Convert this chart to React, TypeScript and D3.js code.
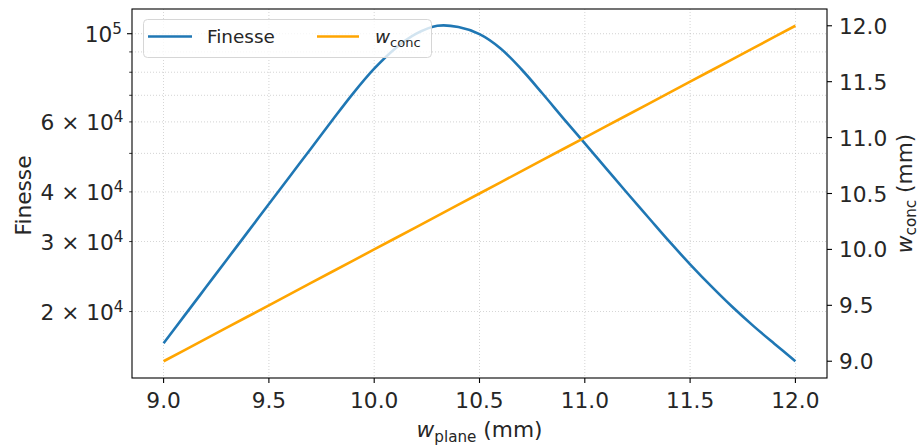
import React from "react";
import * as d3 from "d3";

// Data
const wPlane: number[] = [
  9.0, 9.1, 9.2, 9.3, 9.4, 9.5, 9.6, 9.7, 9.8, 9.9, 10.0, 10.1, 10.2, 10.3, 10.4, 10.5,
  10.6, 10.7, 10.8, 10.9, 11.0, 11.1, 11.2, 11.3, 11.4, 11.5, 11.6, 11.7, 11.8, 11.9, 12.0,
];
const finesse: number[] = [
  16650, 19560, 22985, 27010, 31730, 37290, 43810, 51460, 60470, 70790, 81660, 91830,
  100000, 104710, 103990, 99770, 91830, 81280, 70630, 61090, 52970, 45920, 39810, 34590,
  30060, 26300, 23170, 20560, 18410, 16600, 15000,
];
const wConc: number[] = [
  9.0, 9.1, 9.2, 9.3, 9.4, 9.5, 9.6, 9.7, 9.8, 9.9, 10.0, 10.1, 10.2, 10.3, 10.4, 10.5,
  10.6, 10.7, 10.8, 10.9, 11.0, 11.1, 11.2, 11.3, 11.4, 11.5, 11.6, 11.7, 11.8, 11.9, 12.0,
];
const xTicks: number[] = [9.0, 9.5, 10.0, 10.5, 11.0, 11.5, 12.0];
const rightTicks: number[] = [9.0, 9.5, 10.0, 10.5, 11.0, 11.5, 12.0];
const leftMajorTicks: number[] = [100000];
const leftMinorTicks: number[] = [20000, 30000, 40000, 50000, 60000, 70000, 80000, 90000];
const leftMinorLabels: { v: number; m: string }[] = [
  { v: 20000, m: "2" },
  { v: 30000, m: "3" },
  { v: 40000, m: "4" },
  { v: 60000, m: "6" },
];

const W = 918;
const H = 445;
const L = 132;
const R = 827;
const T = 9;
const B = 378;
const FONT = "DejaVu Sans, sans-serif";
const FS = 21.7;
const SUP = 15.2;
const LFS = 18.4;
const LSUB = 13;
const BLUE = "#1f77b4";
const ORANGE = "#ffa500";
const TXT = "#262626";

export default function App() {
  const xExt = d3.extent(wPlane) as [number, number];
  const xPad = (xExt[1] - xExt[0]) * 0.05;
  const x = d3.scaleLinear().domain([xExt[0] - xPad, xExt[1] + xPad]).range([L, R]);

  const lmin = Math.log10(d3.min(finesse)!);
  const lmax = Math.log10(d3.max(finesse)!);
  const lpad = (lmax - lmin) * 0.05;
  const yL = d3.scaleLog().domain([10 ** (lmin - lpad), 10 ** (lmax + lpad)]).range([B, T]);

  const rExt = d3.extent(wConc) as [number, number];
  const rPad = (rExt[1] - rExt[0]) * 0.05;
  const yR = d3.scaleLinear().domain([rExt[0] - rPad, rExt[1] + rPad]).range([B, T]);

  const blueLine = d3
    .line<number>()
    .x((_, i) => x(wPlane[i]))
    .y((d) => yL(d))
    .curve(d3.curveCatmullRom.alpha(0.5))(finesse)!;
  const orangeLine = d3
    .line<number>()
    .x((_, i) => x(wPlane[i]))
    .y((d) => yR(d))(wConc)!;

  const gridStyle = { stroke: "#b0b0b0", strokeWidth: 0.8, strokeDasharray: "0.8,2.2", opacity: 0.85 };

  return (
    <svg
      width={W}
      height={H}
      style={{ position: "absolute", left: 0, top: 0, background: "#fff" }}
      fontFamily={FONT}
    >
      <rect x={0} y={0} width={W} height={H} fill="#fff" />
      <defs>
        <clipPath id="plotclip">
          <rect x={L} y={T} width={R - L} height={B - T} />
        </clipPath>
      </defs>
      {/* grid */}
      {xTicks.map((t) => (
        <line key={"gx" + t} x1={x(t)} x2={x(t)} y1={T} y2={B} {...gridStyle} />
      ))}
      {[...leftMajorTicks, ...leftMinorTicks].map((t) => (
        <line key={"gy" + t} x1={L} x2={R} y1={yL(t)} y2={yL(t)} {...gridStyle} />
      ))}
      {/* lines */}
      <g clipPath="url(#plotclip)">
        <path d={blueLine} fill="none" stroke={BLUE} strokeWidth={2.6} strokeLinejoin="round" strokeLinecap="butt" />
        <path d={orangeLine} fill="none" stroke={ORANGE} strokeWidth={2.6} strokeLinecap="butt" />
      </g>
      {/* spines */}
      <rect x={L} y={T} width={R - L} height={B - T} fill="none" stroke="#000" strokeWidth={1.1} />
      {/* bottom ticks */}
      {xTicks.map((t) => (
        <g key={"xt" + t}>
          <line x1={x(t)} x2={x(t)} y1={B} y2={B + 5} stroke="#000" strokeWidth={1.1} />
          <text x={x(t)} y={B + 30} textAnchor="middle" fontSize={FS} fill={TXT}>
            {t.toFixed(1)}
          </text>
        </g>
      ))}
      {/* left ticks */}
      {leftMajorTicks.map((t) => (
        <g key={"lt" + t}>
          <line x1={L - 5} x2={L} y1={yL(t)} y2={yL(t)} stroke="#000" strokeWidth={1.1} />
          <text x={L - 10} y={yL(t) + 8} textAnchor="end" fontSize={FS} fill={TXT}>
            10<tspan dy={-8} fontSize={SUP}>5</tspan>
          </text>
        </g>
      ))}
      {leftMinorTicks.map((t) => (
        <line key={"lm" + t} x1={L - 2.8} x2={L} y1={yL(t)} y2={yL(t)} stroke="#000" strokeWidth={0.8} />
      ))}
      {leftMinorLabels.map((d) => (
        <text key={"ll" + d.v} x={L - 8.5} y={yL(d.v) + 8} textAnchor="end" fontSize={FS} fill={TXT}>
          {d.m} × 10<tspan dy={-8} fontSize={SUP}>4</tspan>
        </text>
      ))}
      {/* right ticks */}
      {rightTicks.map((t) => (
        <g key={"rt" + t}>
          <line x1={R} x2={R + 5} y1={yR(t)} y2={yR(t)} stroke="#000" strokeWidth={1.1} />
          <text x={R + 12} y={yR(t) + 8} textAnchor="start" fontSize={FS} fill={TXT}>
            {t.toFixed(1)}
          </text>
        </g>
      ))}
      {/* axis labels */}
      <text x={(L + R) / 2} y={437} textAnchor="middle" fontSize={FS} fill={TXT}>
        <tspan fontStyle="italic">w</tspan>
        <tspan fontSize={SUP} dy={4.5}>plane</tspan>
        <tspan dy={-4.5}> (mm)</tspan>
      </text>
      <text
        transform={`translate(30.5,${(T + B) / 2 + 2}) rotate(-90)`}
        textAnchor="middle"
        fontSize={FS}
        fill={TXT}
      >
        Finesse
      </text>
      <text
        transform={`translate(911.5,${(T + B) / 2}) rotate(-90)`}
        textAnchor="middle"
        fontSize={FS}
        fill={TXT}
      >
        <tspan fontStyle="italic">w</tspan>
        <tspan fontSize={SUP} dy={4}>conc</tspan>
        <tspan dy={-4}> (mm)</tspan>
      </text>
      {/* legend */}
      <g>
        <rect x={143.5} y={19.5} width={288} height={38} rx={4} fill="#fff" fillOpacity={0.8} stroke="#d6d6d6" strokeWidth={1} />
        <line x1={148} x2={192} y1={36.5} y2={36.5} stroke={BLUE} strokeWidth={2.6} />
        <text x={207} y={43} fontSize={LFS} fill={TXT}>Finesse</text>
        <line x1={317} x2={359} y1={36.5} y2={36.5} stroke={ORANGE} strokeWidth={2.6} />
        <text x={375} y={43} fontSize={LFS} fill={TXT}>
          <tspan fontStyle="italic">w</tspan>
          <tspan fontSize={LSUB} dy={4}>conc</tspan>
        </text>
      </g>
    </svg>
  );
}
